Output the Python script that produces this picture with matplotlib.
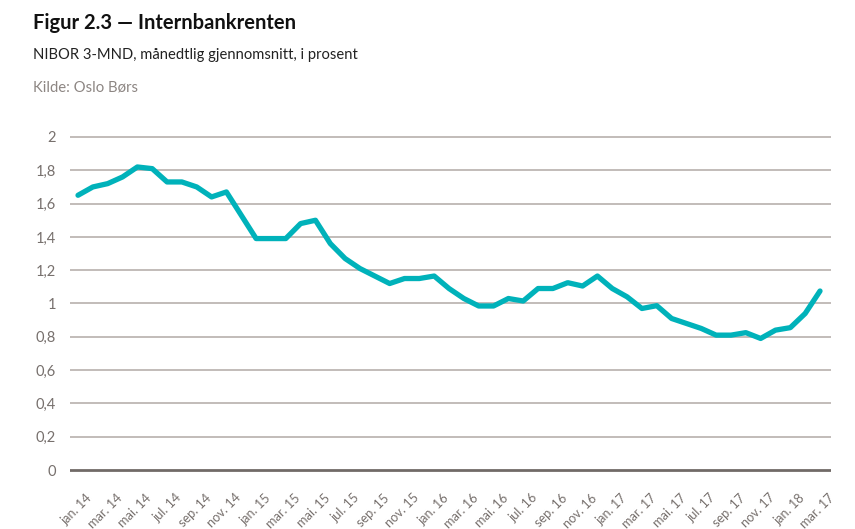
import matplotlib
matplotlib.use("Agg")
import matplotlib.pyplot as plt
import matplotlib.transforms as mtransforms

plt.rcParams['font.family'] = ['Lato', 'DejaVu Sans']

# Data: NIBOR 3-month, monthly average, jan. 2014 - mar. 2018
values = [1.65, 1.70, 1.72, 1.76, 1.82, 1.81, 1.73, 1.73, 1.70, 1.64,
          1.67, 1.53, 1.39, 1.39, 1.39, 1.48, 1.50, 1.36, 1.27, 1.21,
          1.165, 1.12, 1.15, 1.15, 1.165, 1.09, 1.03, 0.985, 0.985, 1.03,
          1.015, 1.09, 1.09, 1.125, 1.105, 1.165, 1.09, 1.04, 0.97, 0.987,
          0.91, 0.88, 0.85, 0.81, 0.81, 0.825, 0.79, 0.84, 0.855, 0.94,
          1.075]
tick_labels = ["jan. 14", "mar. 14", "mai. 14", "jul. 14", "sep. 14", "nov. 14",
               "jan. 15", "mar. 15", "mai. 15", "jul. 15", "sep. 15", "nov. 15",
               "jan. 16", "mar. 16", "mai. 16", "jul. 16", "sep. 16", "nov. 16",
               "jan. 17", "mar. 17", "mai. 17", "jul. 17", "sep. 17", "nov. 17",
               "jan. 18", "mar. 17"]
y_ticks = [0, 0.2, 0.4, 0.6, 0.8, 1.0, 1.2, 1.4, 1.6, 1.8, 2.0]
y_tick_labels = ["0", "0,2", "0,4", "0,6", "0,8", "1", "1,2", "1,4", "1,6", "1,8", "2"]

title = "Figur 2.3 — Internbankrenten"
subtitle = "NIBOR 3-MND, månedtlig gjennomsnitt, i prosent"
source = "Kilde: Oslo Børs"

W, H = 855, 529
fig = plt.figure(figsize=(W / 100, H / 100), dpi=100)
fig.patch.set_facecolor("white")

pad = 0.03
ppu = 166.5
y0 = 470 + pad * ppu
y1 = 137 - pad * ppu
ax = fig.add_axes([70 / W, 1 - y0 / H, (831 - 70) / W, (y0 - y1) / H])
ax.set_ylim(-pad, 2 + pad)
ax.set_xlim(-0.54, 50.74)

grid_color = "#bdb6b3"
for yt in y_ticks:
    if yt == 0:
        ax.axhline(yt, color="#716a67", lw=2.0, zorder=1)
    else:
        ax.axhline(yt, color=grid_color, lw=1.3, zorder=1)

x = list(range(len(values)))
ax.plot(x, values, color="#00b2ba", lw=3.8, solid_joinstyle="round",
        solid_capstyle="round", zorder=3)

for s in ax.spines.values():
    s.set_visible(False)

ax.set_yticks(y_ticks)
ax.set_yticklabels(y_tick_labels)
ax.tick_params(axis="y", length=0, pad=10, labelsize=10.5, labelcolor="#77706d")

ax.set_xticks(list(range(0, len(values), 2)))
ax.set_xticklabels(tick_labels, rotation=45, ha="right", va="top",
                   rotation_mode="anchor")
ax.tick_params(axis="x", length=0, pad=12, labelsize=9.2, labelcolor="#77706d")
offset = mtransforms.ScaledTranslation(8 / 100, 0, fig.dpi_scale_trans)
for lbl in ax.get_xticklabels():
    lbl.set_transform(lbl.get_transform() + offset)

fig.text(33 / W, 1 - 29 / H, title, fontsize=14.5, fontweight="bold",
         color="#111111", ha="left", va="baseline")
fig.text(33 / W, 1 - 59 / H, subtitle, fontsize=10.6, color="#222222",
         ha="left", va="baseline")
fig.text(33 / W, 1 - 91 / H, source, fontsize=10.7, color="#8d8683",
         ha="left", va="baseline")

fig.savefig("out.png", dpi=100, facecolor="white")
